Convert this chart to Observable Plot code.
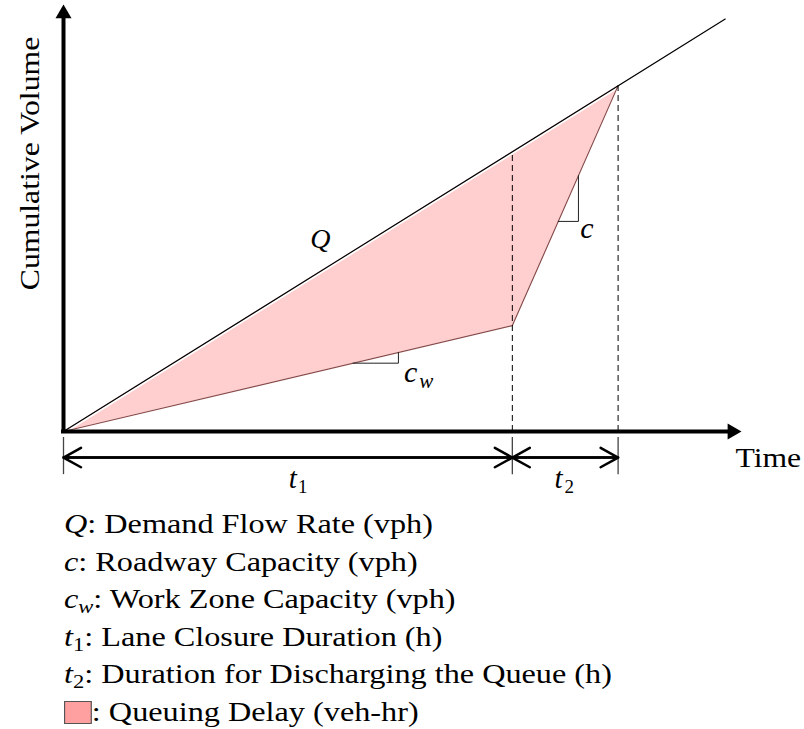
<!DOCTYPE html>
<html>
<head>
<meta charset="utf-8">
<script src="https://cdn.jsdelivr.net/npm/d3@7"></script>
<script src="https://cdn.jsdelivr.net/npm/@observablehq/plot@0.6"></script>
<style>
  html, body { margin: 0; padding: 0; background: #fff; }
  #chart svg { display: block; }
  #legend {
    font-family: serif;
    font-size: 27.8px;
    line-height: 37.5px;
    padding-left: 64px;
    padding-top: 5px;
    color: #000;
  }
  #legend .row { white-space: nowrap; transform: scaleX(1.16); transform-origin: 0 0; }
  #legend i { font-style: italic; }
  #legend sub { font-size: 0.7em; vertical-align: -0.28em; line-height: 0; }
  #legend .swatch {
    display: inline-block; width: 22px; height: 21px;
    background: #ffa0a0; border: 1.5px solid #555;
    vertical-align: -3px;
  }
</style>
</head>
<body>
<div id="chart"></div>
<div id="legend"></div>
<script>
// ---- data (time in h, volume in arbitrary units) ----
const phaseNames      = ["start", "end of closure (t1)", "queue cleared (t1+t2)"];
const phaseTime       = [0, 6.62, 8.18];
const arrivalVolume   = [0, 6.55, 8.10];   // cumulative demand Q
const departureVolume = [0, 2.48, 8.10];   // cumulative departures (c_w, then c)

const demandTime   = [0, 9.76];            // Q line extends past queue clearing
const demandVolume = [0, 9.66];

// slope triangles: horizontal leg level and right-hand time
const slopeNames      = ["c_w", "c"];
const slopeSegment    = [0, 1];            // index of departure segment
const slopeBaseVolume = [1.60, 4.92];
const slopeRightTime  = [4.94, 7.595];

// dimension row (below the time axis)
const dimLevel  = -0.61;
const tickTop   = -0.14;
const tickBot   = -1.01;

// text
const yTitle = "Cumulative Volume";
const xTitle = "Time";
const legendSymbols = ["<i>Q</i>", "<i>c</i>", "<i>c</i><sub><i>w</i></sub>", "<i>t</i><sub>1</sub>", "<i>t</i><sub>2</sub>", "<span class=\"swatch\"></span>"];
const legendTexts = ["Demand Flow Rate (vph)", "Roadway Capacity (vph)", "Work Zone Capacity (vph)", "Lane Closure Duration (h)", "Duration for Discharging the Queue (h)", "Queuing Delay (veh-hr)"];

// ---- derived tables ----
const poly = phaseTime.map((t, i) => ({time: t, arr: arrivalVolume[i], dep: departureVolume[i]}));
const depLine = phaseTime.map((t, i) => ({time: t, v: departureVolume[i]}));
const qLine = demandTime.map((t, i) => ({time: t, v: demandVolume[i]}));

function onSegment(k, v) { // time where departure segment k reaches volume v
  const t0 = phaseTime[k], t1 = phaseTime[k + 1], v0 = departureVolume[k], v1 = departureVolume[k + 1];
  return t0 + (v - v0) * (t1 - t0) / (v1 - v0);
}
function volAt(k, t) {
  const t0 = phaseTime[k], t1 = phaseTime[k + 1], v0 = departureVolume[k], v1 = departureVolume[k + 1];
  return v0 + (t - t0) * (v1 - v0) / (t1 - t0);
}
const triangles = slopeNames.flatMap((name, i) => {
  const k = slopeSegment[i];
  const tl = onSegment(k, slopeBaseVolume[i]);
  const tr = slopeRightTime[i];
  return [
    {name, time: tl, v: slopeBaseVolume[i]},
    {name, time: tr, v: slopeBaseVolume[i]},
    {name, time: tr, v: volAt(k, tr)}
  ];
});

const t1 = phaseTime[1], tEnd = phaseTime[2];
const dims = [
  {x1: t1, x2: 0}, {x1: 0, x2: t1},
  {x1: tEnd, x2: t1}, {x1: t1, x2: tEnd}
];

// label anchors (data coordinates)
const labels = [
  {text: "Q", time: 3.79, v: 4.29, size: 28, italic: true},
  {text: "c", time: 7.72, v: 4.52, size: 30, italic: true},
  {text: "c", time: 5.12, v: 1.17, size: 30, italic: true},
  {text: "w", time: 5.35, v: 1.01, size: 21, italic: true},
  {text: "t", time: 3.38, v: -1.33, size: 29, italic: true},
  {text: "1", time: 3.53, v: -1.43, size: 19, italic: false},
  {text: "t", time: 7.30, v: -1.33, size: 29, italic: true},
  {text: "2", time: 7.46, v: -1.43, size: 19, italic: false}
];

const chart = Plot.plot({
  width: 804,
  height: 500,
  marginLeft: 63,
  marginRight: 63,
  marginTop: 4,
  marginBottom: 69,
  x: {domain: [0, 10], axis: null},
  y: {domain: [0, 10], axis: null},
  style: {fontFamily: "serif", background: "white", overflow: "visible"},
  marks: [
    Plot.areaY(poly, {x: "time", y1: "dep", y2: "arr", fill: "#ffcfcf"}),
    Plot.line(qLine, {x: "time", y: "v", stroke: "white", strokeWidth: 2, dy: 1.6}),
    Plot.line(depLine, {x: "time", y: "v", stroke: "#8a4a4a", strokeWidth: 1.2}),
    Plot.line(qLine, {x: "time", y: "v", stroke: "black", strokeWidth: 1.2}),
    Plot.ruleX([1, 2], {x: (i) => phaseTime[i], y1: 0, y2: (i) => arrivalVolume[i], stroke: "black", strokeWidth: 1, strokeDasharray: "6,4"}),
    Plot.line(triangles, {x: "time", y: "v", z: "name", stroke: "#222", strokeWidth: 1}),
    Plot.ruleY([0], {x1: 0, x2: 9.85, stroke: "black", strokeWidth: 4, strokeLinecap: "square"}),
    Plot.ruleX([0], {y1: 0, y2: 9.8, stroke: "black", strokeWidth: 4, strokeLinecap: "square"}),
    Plot.dot([0], {x: 10, y: 0, symbol: "triangle", r: 5.94, fill: "black", stroke: "none", rotate: 90, dx: -9.24}),
    Plot.dot([0], {x: 0, y: 10, symbol: "triangle", r: 5.94, fill: "black", stroke: "none", dy: 9.24}),
    Plot.ruleX(phaseTime, {y1: tickTop, y2: tickBot, stroke: "#444", strokeWidth: 1.3}),
    Plot.arrow(dims, {x1: "x1", x2: "x2", y1: dimLevel, y2: dimLevel, stroke: "black", strokeWidth: 2.5, headLength: 12, headAngle: 58}),
    Plot.text(labels.filter(d => d.italic), {x: "time", y: "v", text: "text", fontSize: (d) => d.size, fontStyle: "italic", lineAnchor: "bottom", textAnchor: "middle", fill: "black"}),
    Plot.text(labels.filter(d => !d.italic), {x: "time", y: "v", text: "text", fontSize: (d) => d.size, lineAnchor: "bottom", textAnchor: "middle", fill: "black"}),
    Plot.text([yTitle], {frameAnchor: "left", dx: -25, dy: -54.5, rotate: -90, fontSize: 27.6, lineAnchor: "bottom", textAnchor: "middle", fill: "black"}),
    Plot.text([xTitle], {frameAnchor: "bottom-right", dx: -6, dy: 35, fontSize: 27.5, lineAnchor: "bottom", textAnchor: "start", fill: "black"})
  ]
});

// widen the title glyphs along the text direction (reference font is wider)
d3.select(chart).selectAll("text")
  .filter(function () { return this.textContent === yTitle || this.textContent === xTitle; })
  .each(function () {
    const el = this;
    const x = parseFloat(el.getAttribute("x")) || 0;
    const yAttr = el.getAttribute("y");
    const y = yAttr && !/em/.test(yAttr) ? parseFloat(yAttr) : 0;
    const t = el.getAttribute("transform") || "";
    el.setAttribute("transform", `${t} translate(${x},${y}) scale(1.15,1)`);
    el.removeAttribute("x");
    if (yAttr && !/em/.test(yAttr)) el.removeAttribute("y");
  });

document.getElementById("chart").appendChild(chart);

const legend = document.getElementById("legend");
legendSymbols.forEach((s, i) => {
  const row = document.createElement("div");
  row.className = "row";
  row.innerHTML = s + ": " + legendTexts[i];
  legend.appendChild(row);
});
</script>
</body>
</html>
